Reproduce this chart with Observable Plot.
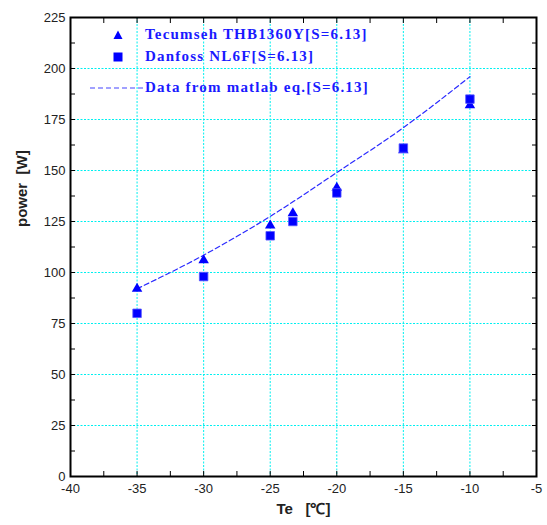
<!DOCTYPE html>
<html><head><meta charset="utf-8">
<script src="https://cdn.jsdelivr.net/npm/d3@7"></script>
<script src="https://cdn.jsdelivr.net/npm/@observablehq/plot@0.6"></script>
<style>
body{margin:0;background:#fff;}
#wrap{position:relative;width:547px;height:525px;}
#legend{position:absolute;left:0;top:0;font-family:"Liberation Serif","Times New Roman",serif;font-weight:bold;font-size:15px;color:#1a1aff;letter-spacing:1.2px;}
#legend .row{position:absolute;white-space:nowrap;}
</style></head>
<body><div id="wrap"><div id="chart"></div><div id="legend"></div></div>
<script>
const te = [-35, -30, -25, -23.3, -20, -15, -10];
const tecumseh = [92, 106, 123, 129, 141.5, 160, 182];
const danfoss = [80, 98, 118, 125, 139, 161, 185];
const matlabTe = [-35, -30, -25, -20, -15, -10];
const matlabPower = [92, 108.5, 127.5, 149, 171, 196];
const xTicks = [-40, -35, -30, -25, -20, -15, -10, -5];
const yTicks = [0, 25, 50, 75, 100, 125, 150, 175, 200, 225];
const legendLabels = ["Tecumseh THB1360Y[S=6.13]", "Danfoss NL6F[S=6.13]", "Data from matlab eq.[S=6.13]"];

const blue = "#0000ff";
const tec = te.map((t, i) => ({te: t, p: tecumseh[i]}));
const dan = te.map((t, i) => ({te: t, p: danfoss[i]}));
const mat = matlabTe.map((t, i) => ({te: t, p: matlabPower[i]}));
const xMinor = d3.range(-40, -4.9, 2.5);
const yMinor = d3.range(0, 225.1, 12.5);

const chart = Plot.plot({
  width: 547, height: 525,
  marginLeft: 70, marginRight: 11, marginTop: 17, marginBottom: 49,
  style: {fontFamily: "'Liberation Sans', Arial, sans-serif", fontSize: "13px", color: "#222", background: "#fff"},
  x: {domain: [-40, -5], label: null},
  y: {domain: [0, 225], label: null},
  marks: [
    Plot.gridX(xTicks.slice(1, -1), {stroke: "#00f0f0", strokeOpacity: 1, strokeDasharray: "2,1.5", strokeWidth: 1}),
    Plot.gridY(yTicks.slice(1, -1), {stroke: "#00f0f0", strokeOpacity: 1, strokeDasharray: "2,1.5", strokeWidth: 1}),
    Plot.axisX({ticks: xTicks, tickSize: 0, tickPadding: 7, tickFormat: d => d, fontSize: 13}),
    Plot.axisY({ticks: yTicks, tickSize: 0, tickPadding: 5, tickFormat: d => d, fontSize: 13}),
    Plot.axisX({ticks: xMinor, tickSize: -5, anchor: "bottom", tickFormat: null, text: null, label: null, stroke: "#000"}),
    Plot.axisX({ticks: xMinor, tickSize: -5, anchor: "top", tickFormat: null, text: null, label: null, stroke: "#000"}),
    Plot.axisY({ticks: yMinor, tickSize: -5, anchor: "left", tickFormat: null, text: null, label: null, stroke: "#000"}),
    Plot.axisY({ticks: yMinor, tickSize: -5, anchor: "right", tickFormat: null, text: null, label: null, stroke: "#000"}),
    Plot.frame({stroke: "#000", strokeWidth: 2}),
    Plot.line(mat, {x: "te", y: "p", stroke: "#2a2aff", strokeWidth: 1.2, strokeDasharray: "5,3", curve: "monotone-x"}),
    Plot.dot(tec, {x: "te", y: "p", symbol: "triangle", r: 3.9, fill: blue, stroke: "none"}),
    Plot.dot(dan, {x: "te", y: "p", symbol: "square", r: 4.8, fill: blue, stroke: "#5555ff", strokeWidth: 0.8}),
    Plot.text(["Te   [℃]"], {frameAnchor: "bottom", dy: 37, fontWeight: "bold", fontSize: 15, fill: "#222"}),
    Plot.text(["power  [W]"], {frameAnchor: "left", dx: -48, dy: -20, rotate: -90, fontWeight: "bold", fontSize: 15, fill: "#222"})
  ]
});
document.getElementById("chart").appendChild(chart);

const lg = document.getElementById("legend");
const rows = [
  {y: 35, sym: `<svg width="14" height="14" style="position:absolute;left:111px;top:-7px"><path d="M7,2.5 L11.5,11 L2.5,11 Z" fill="${blue}"/></svg>`},
  {y: 57, sym: `<svg width="14" height="14" style="position:absolute;left:111px;top:-7px"><rect x="2.5" y="2.5" width="9" height="9" fill="${blue}"/></svg>`},
  {y: 88, sym: `<svg width="60" height="6" style="position:absolute;left:90px;top:-3px"><line x1="0" y1="3" x2="54" y2="3" stroke="#4444ff" stroke-width="1.2" stroke-dasharray="5,3"/></svg>`}
];
rows.forEach((r, i) => {
  const d = document.createElement("div");
  d.className = "row";
  d.style.left = "0px"; d.style.top = r.y + "px";
  d.innerHTML = r.sym + `<span style="position:absolute;left:145px;top:-10px;line-height:18px">${legendLabels[i]}</span>`;
  lg.appendChild(d);
});
</script></body></html>
